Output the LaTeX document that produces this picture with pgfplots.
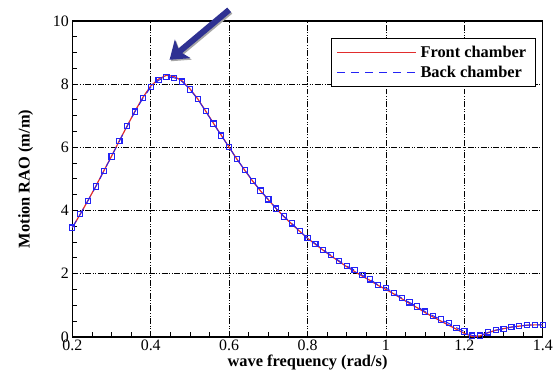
\documentclass[border=0pt]{standalone}
\usepackage{fontspec}
\setmainfont{Liberation Serif}
\usepackage{pgfplots}
\usepackage{pgfplotstable}
\pgfplotsset{compat=1.18}
\usetikzlibrary{arrows.meta}

\definecolor{frontred}{RGB}{225,45,45}
\definecolor{backblue}{RGB}{35,35,245}
\definecolor{arrownavy}{RGB}{46,49,146}

% Motion RAO of the two chambers against wave frequency
\pgfplotstableread{
freq  front  back
0.20  3.46   3.46
0.22  3.88   3.88
0.24  4.32   4.31
0.26  4.77   4.76
0.28  5.25   5.24
0.30  5.72   5.71
0.32  6.21   6.20
0.34  6.68   6.67
0.36  7.15   7.13
0.38  7.58   7.55
0.40  7.94   7.90
0.42  8.16   8.12
0.44  8.28   8.23
0.46  8.24   8.20
0.48  8.10   8.08
0.50  7.85   7.83
0.52  7.53   7.52
0.54  7.15   7.14
0.56  6.76   6.75
0.58  6.38   6.37
0.60  6.00   6.00
0.62  5.62   5.62
0.64  5.27   5.28
0.66  4.93   4.94
0.68  4.62   4.63
0.70  4.34   4.35
0.72  4.06   4.06
0.74  3.80   3.81
0.76  3.57   3.59
0.78  3.34   3.35
0.80  3.12   3.12
0.82  2.93   2.95
0.84  2.74   2.75
0.86  2.56   2.58
0.88  2.39   2.41
0.90  2.22   2.24
0.92  2.07   2.11
0.94  1.92   1.95
0.96  1.78   1.82
0.98  1.63   1.64
1.00  1.50   1.55
1.02  1.36   1.39
1.04  1.21   1.23
1.06  1.06   1.09
1.08  0.92   0.96
1.10  0.77   0.80
1.12  0.63   0.67
1.14  0.50   0.55
1.16  0.37   0.43
1.18  0.24   0.29
1.20  0.11   0.17
1.22  0.01   0.04
1.24  0.03   0.04
1.26  0.13   0.14
1.28  0.21   0.21
1.30  0.26   0.26
1.32  0.31   0.31
1.34  0.34   0.34
1.36  0.37   0.37
1.38  0.38   0.38
1.40  0.38   0.38
}\raodata

\begin{document}
\begin{tikzpicture}
\begin{axis}[
  scale only axis,
  width=472bp, height=317bp,
  xmin=0.2, xmax=1.4, ymin=0, ymax=10,
  xtick={0.2,0.4,0.6,0.8,1.0,1.2,1.4},
  xticklabels={0.2,0.4,0.6,0.8,1,1.2,1.4},
  ytick={0,2,4,6,8,10},
  yticklabels={0,2,4,6,8,10},
  minor x tick num=3,
  minor y tick num=3,
  tick align=inside,
  tick pos=left,
  major tick length=5bp,
  minor tick length=5bp,
  every tick/.style={black, line width=0.9bp},
  axis line style={black, line width=1.3bp},
  grid=major,
  major grid style={black, line width=0.9bp,
    dash pattern=on 6bp off 1.6bp on 1bp off 1.6bp on 1bp off 1.6bp},
  /pgf/number format/assume math mode=true,
  tick label style={font=\fontsize{16}{19}\selectfont},
  label style={font=\fontsize{16.5}{19}\selectfont\bfseries},
  xlabel={wave frequency (rad/s)},
  ylabel={Motion RAO (m/m)},
  xlabel style={at={(axis description cs:0.5,0)}, anchor=base, yshift=-29.5bp},
  ylabel style={at={(axis description cs:-0.091,0.5)}, anchor=base},
  clip=false,
  legend cell align=left,
  legend style={at={(0.985,0.947)}, anchor=north east,
    draw=black, line width=1bp, fill=white,
    font=\fontsize{16.5}{19}\selectfont\bfseries,
    inner xsep=5bp, inner ysep=6bp, row sep=3bp,
    nodes={inner xsep=4bp}},
  legend image code/.code={%
    \draw[mark repeat=2, mark phase=2, #1]
      (0bp,0bp) -- (39.5bp,0bp) -- (79bp,0bp);},
]
\addplot[frontred, line width=1.2bp, no markers] table[x=freq, y=front] {\raodata};
\addlegendentry{Front chamber}
\addplot[backblue, line width=0.9bp, dash pattern=on 8bp off 6bp,
  mark=square, mark size=2.6bp,
  mark options={solid, line width=1.1bp}] table[x=freq, y=back] {\raodata};
\addlegendentry{Back chamber}

% pointer to the resonance peak
\draw[black!35, line width=6bp, -{Stealth[length=17bp, width=24bp, inset=4bp]}]
  ([shift={(1.2bp,-1.5bp)}]axis cs:0.600,10.35) -- ([shift={(1.2bp,-1.5bp)}]axis cs:0.448,8.77);
\draw[arrownavy, line width=6bp, -{Stealth[length=17bp, width=24bp, inset=4bp]}]
  (axis cs:0.600,10.35) -- (axis cs:0.448,8.77);
\end{axis}
\path ([shift={(-72.6bp,-33bp)}]current axis.south west)
  rectangle ([shift={(12bp,21bp)}]current axis.north east);
\end{tikzpicture}
\end{document}
